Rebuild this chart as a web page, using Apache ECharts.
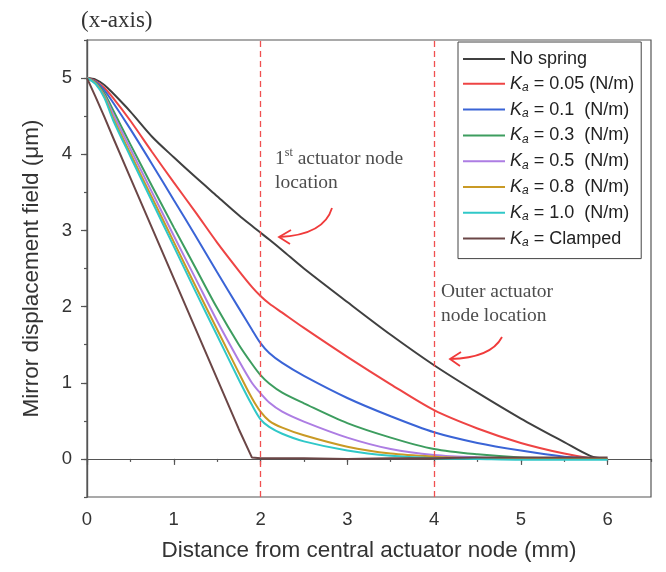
<!DOCTYPE html>
<html>
<head>
<meta charset="utf-8">
<script src="https://cdn.jsdelivr.net/npm/echarts@6/dist/echarts.min.js"></script>
<style>
html,body{margin:0;padding:0;background:#fff;}
#chart{width:666px;height:572px;}
</style>
</head>
<body>
<div id="chart"></div>
<script>
// ---- data ----
const xs = [0, 0.1, 0.2, 0.3, 0.5, 0.75, 1, 1.25, 1.5, 1.75, 1.9, 2, 2.1, 2.25, 2.5, 3, 3.5, 4, 4.5, 5, 5.5, 5.8, 6];
const seriesNames = ['No spring', 'Ka = 0.05 (N/m)', 'Ka = 0.1  (N/m)', 'Ka = 0.3  (N/m)', 'Ka = 0.5  (N/m)', 'Ka = 0.8  (N/m)', 'Ka = 1.0  (N/m)', 'Ka = Clamped'];
const noSpring = [5, 4.98, 4.91, 4.8, 4.56, 4.23, 3.96, 3.7, 3.45, 3.2, 3.06, 2.97, 2.88, 2.74, 2.5, 2.06, 1.63, 1.23, 0.87, 0.53, 0.22, 0.04, 0];
const ka005 = [5, 4.96, 4.87, 4.74, 4.44, 4.03, 3.63, 3.24, 2.84, 2.47, 2.26, 2.14, 2.04, 1.92, 1.72, 1.34, 0.98, 0.64, 0.4, 0.21, 0.07, 0.01, 0];
const ka01 = [5, 4.95, 4.84, 4.68, 4.33, 3.87, 3.4, 2.93, 2.45, 1.98, 1.7, 1.52, 1.39, 1.26, 1.09, 0.8, 0.56, 0.35, 0.21, 0.11, 0.03, 0.01, 0];
const ka03 = [5, 4.94, 4.8, 4.58, 4.13, 3.58, 3.04, 2.51, 1.98, 1.5, 1.25, 1.1, 0.99, 0.87, 0.73, 0.47, 0.28, 0.13, 0.06, 0.02, 0.01, 0, 0];
const ka05 = [5, 4.93, 4.77, 4.53, 4.07, 3.5, 2.93, 2.37, 1.81, 1.29, 1.0, 0.86, 0.74, 0.62, 0.49, 0.28, 0.13, 0.05, 0.02, 0.01, 0, 0, 0];
const ka08 = [5, 4.93, 4.76, 4.48, 4.01, 3.43, 2.85, 2.27, 1.7, 1.13, 0.8, 0.62, 0.5, 0.41, 0.31, 0.16, 0.07, 0.03, 0.01, 0, 0, 0, 0];
const ka10 = [5, 4.92, 4.74, 4.45, 3.97, 3.38, 2.79, 2.2, 1.62, 1.04, 0.71, 0.52, 0.42, 0.33, 0.23, 0.11, 0.04, 0.01, 0, -0.01, -0.01, -0.01, -0.01];
const clamped = [5, 4.75, 4.49, 4.22, 3.69, 3.03, 2.37, 1.71, 1.05, 0.39, 0.02, 0.01, 0.01, 0.01, 0.01, 0.0, 0.01, 0.01, 0.02, 0.02, 0.02, 0.02, 0.02];
const nodeLocations = [2, 4];
const xTickLabels = [0, 1, 2, 3, 4, 5, 6];
const yTickLabels = [0, 1, 2, 3, 4, 5];

// ---- styles ----
const colors = ['#404040', '#ee4444', '#3a64d6', '#3d9d5f', '#ad7de3', '#c99a25', '#30c8c8', '#6b4646'];
const allValues = [noSpring, ka005, ka01, ka03, ka05, ka08, ka10, clamped];
const axisColor = '#555';
const sans = '"Liberation Sans", Arial, sans-serif';
const serif = '"Liberation Serif", "Times New Roman", serif';

const chart = echarts.init(document.getElementById('chart'), null, {renderer: 'canvas'});

const series = allValues.map((vals, i) => ({
  name: seriesNames[i],
  type: 'line',
  xAxisIndex: 0,
  yAxisIndex: 0,
  data: xs.map((x, j) => [x, vals[j]]),
  showSymbol: false,
  symbol: 'none',
  smooth: i === 7 ? false : 0.3,
  lineStyle: {width: 2, color: colors[i]},
  itemStyle: {color: colors[i]},
  z: 3,
  animation: false
}));
series[0].markLine = {
  silent: true,
  symbol: ['none', 'none'],
  label: {show: false},
  lineStyle: {type: [6, 4], color: '#f05050', width: 1.3},
  data: nodeLocations.map(v => ({xAxis: v})),
  animation: false
};

function legendFmt(name) {
  if (name.indexOf('Ka') === 0) {
    return '{k|K}{s|a}{t|' + name.slice(2) + '}';
  }
  return '{t|' + name + '}';
}

const option = {
  animation: false,
  backgroundColor: '#fff',
  title: {
    text: '(x-axis)',
    left: 76, top: 4,
    textStyle: {fontFamily: serif, fontSize: 23, fontWeight: 'normal', color: '#333'}
  },
  grid: {left: 87, right: 15, top: 40, bottom: 75, show: true, borderColor: axisColor, borderWidth: 1.2, backgroundColor: 'transparent'},
  legend: {
    orient: 'vertical',
    left: 458, top: 42,
    padding: [8, 7, 10, 5],
    itemGap: 6.8,
    itemWidth: 42, itemHeight: 2,
    icon: 'rect',
    backgroundColor: '#fff',
    borderColor: '#444', borderWidth: 1,
    data: seriesNames,
    formatter: legendFmt,
    textStyle: {
      fontFamily: sans, fontSize: 18, color: '#222',
      rich: {
        t: {fontFamily: sans, fontSize: 18, lineHeight: 20, color: '#222'},
        k: {fontFamily: sans, fontSize: 18, lineHeight: 20, fontStyle: 'italic', color: '#222'},
        s: {fontFamily: sans, fontSize: 12, lineHeight: 13, fontStyle: 'italic', verticalAlign: 'bottom', color: '#222'}
      }
    }
  },
  xAxis: [
    {
      type: 'value', min: 0, max: 6.5, interval: 0.5,
      axisLine: {show: true, lineStyle: {color: axisColor, width: 1.2}},
      axisTick: {show: true, inside: false, length: 3, lineStyle: {color: axisColor, width: 1.2}},
      axisLabel: {show: false},
      splitLine: {show: false}
    },
    {
      type: 'value', min: 0, max: 6.5, position: 'bottom',
      axisLine: {show: true, lineStyle: {color: axisColor, width: 1.2}},
      axisTick: {show: true, inside: false, length: 6, customValues: xTickLabels, lineStyle: {color: axisColor, width: 1.2}},
      axisLabel: {show: true, customValues: xTickLabels, margin: 13, fontFamily: sans, fontSize: 18.5, color: '#333'},
      splitLine: {show: false},
      name: 'Distance from central actuator node (mm)',
      nameLocation: 'middle', nameGap: 42,
      nameTextStyle: {fontFamily: sans, fontSize: 22.5, color: '#333'}
    }
  ],
  yAxis: [
    {
      type: 'value', min: -0.5, max: 5.5, interval: 0.5,
      axisLine: {show: true, lineStyle: {color: axisColor, width: 1.2}},
      axisTick: {show: true, inside: false, length: 3, lineStyle: {color: axisColor, width: 1.2}},
      axisLabel: {show: false},
      splitLine: {show: false}
    },
    {
      type: 'value', min: -0.5, max: 5.5, position: 'left',
      axisLine: {show: true, lineStyle: {color: axisColor, width: 1.2}},
      axisTick: {show: true, inside: false, length: 6, customValues: yTickLabels, lineStyle: {color: axisColor, width: 1.2}},
      axisLabel: {show: true, customValues: yTickLabels, margin: 15, fontFamily: sans, fontSize: 18.5, color: '#333'},
      splitLine: {show: false},
      name: 'Mirror displacement field (\u03bcm)',
      nameLocation: 'middle', nameGap: 44, nameRotate: 90,
      nameTextStyle: {fontFamily: sans, fontSize: 22.5, color: '#333'}
    }
  ],
  series: series,
  graphic: [
    {
      type: 'text', left: 275, top: 147, z: 10,
      style: {
        text: '{b|1}{sup|st}{b| actuator node}\n{b|location}',
        rich: {
          b: {fontFamily: serif, fontSize: 19.5, lineHeight: 24, fill: '#4d4d4d'},
          sup: {fontFamily: serif, fontSize: 12, lineHeight: 16, verticalAlign: 'top', fill: '#4d4d4d'}
        }
      }
    },
    {
      type: 'text', left: 441, top: 280, z: 10,
      style: {
        text: 'Outer actuator\nnode location',
        font: '19.5px ' + serif, lineHeight: 24, fill: '#4d4d4d'
      }
    },
    {
      type: 'bezierCurve', z: 10,
      shape: {x1: 332, y1: 208, x2: 279, y2: 237, cpx1: 324, cpy1: 235},
      style: {stroke: '#f03a3a', lineWidth: 1.8, fill: null}
    },
    {
      type: 'polyline', z: 10,
      shape: {points: [[291, 230], [279, 237], [290, 244]]},
      style: {stroke: '#f03a3a', lineWidth: 1.8, fill: null}
    },
    {
      type: 'bezierCurve', z: 10,
      shape: {x1: 502, y1: 337, x2: 450, y2: 359, cpx1: 491, cpy1: 358},
      style: {stroke: '#f03a3a', lineWidth: 1.8, fill: null}
    },
    {
      type: 'polyline', z: 10,
      shape: {points: [[461, 352], [450, 359], [460, 366]]},
      style: {stroke: '#f03a3a', lineWidth: 1.8, fill: null}
    }
  ]
};
chart.setOption(option);
</script>
</body>
</html>
